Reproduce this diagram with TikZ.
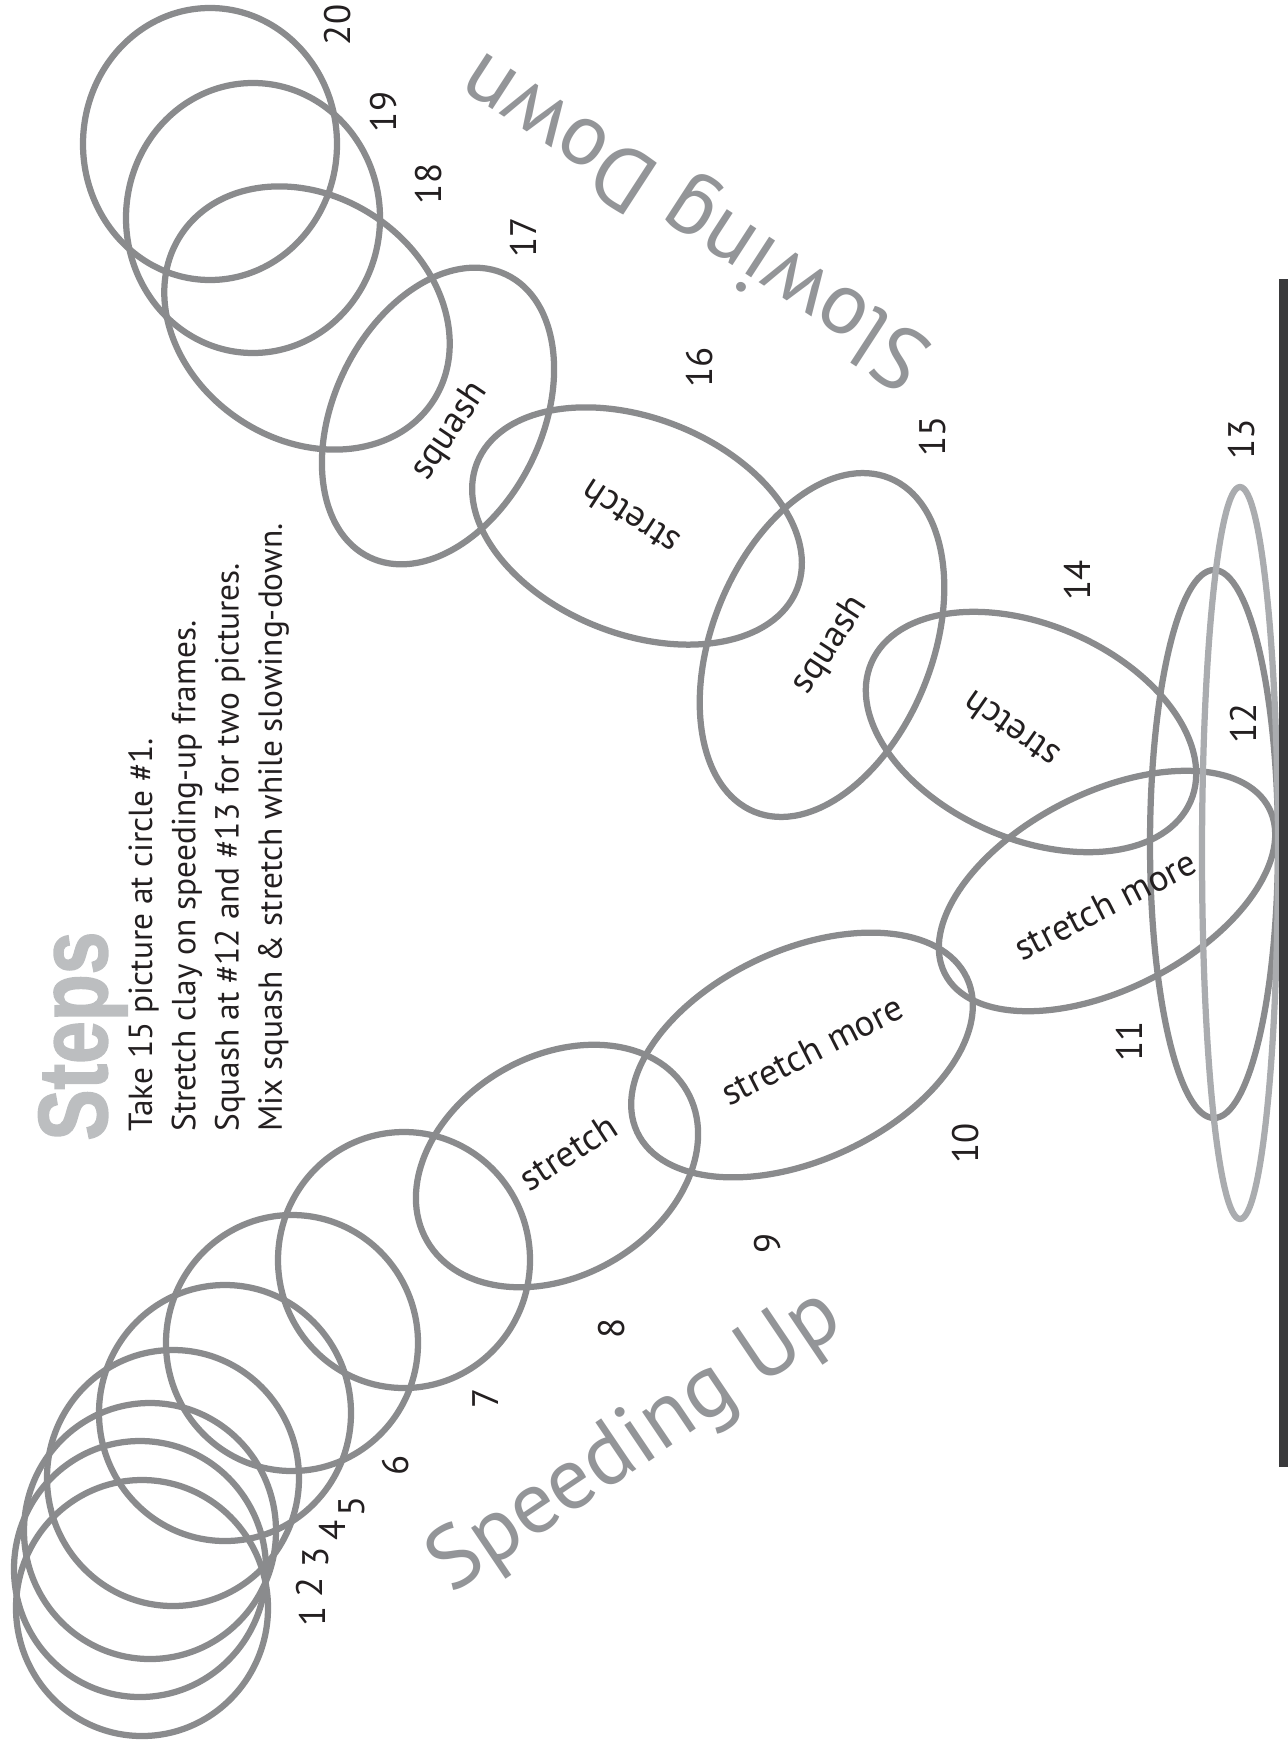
\documentclass[tikz,border=0pt]{standalone}
\usepackage{fontspec}
\setmainfont{PT Sans}
\newfontfamily\stepsfont[FakeStretch=0.78, FakeBold=1.5]{Liberation Sans}
\usetikzlibrary{shapes.geometric,positioning}
\definecolor{ballgray}{RGB}{138,139,141}
\definecolor{palegray}{RGB}{170,172,175}
\definecolor{headgray}{RGB}{188,190,192}
\definecolor{titlegray}{RGB}{147,149,152}
\definecolor{inkdark}{RGB}{35,31,32}
\definecolor{floorgray}{RGB}{58,58,60}
\tikzset{
  ball/.style 2 args={draw=ballgray, line width=1.25mm, ellipse, inner sep=0pt,
    minimum width=#1*0.4mm, minimum height=#2*0.4mm},
  word/.style={text=inkdark, inner sep=0pt, font=\fontsize{21}{24}\selectfont},
  num/.style={text=inkdark, inner sep=0pt, rotate=90, font=\fontsize{21}{24}\selectfont},
  title/.style={text=titlegray, inner sep=0pt, font=\fontsize{50}{60}\selectfont}
}
\begin{document}
\begin{tikzpicture}[x=0.2mm, y=-0.2mm]
    \useasboundingbox (0,0) rectangle (1288,1746);
    \node[ball={126}{128}] (f1) at (142,1608) {};
    \node[ball={126}{128}] (f2) at (140,1569) {};
    \node[ball={126}{128}] (f3) at (150,1531) {};
    \node[ball={126}{128}] (f4) at (173,1478) {};
    \node[ball={126}{128}] (f5) at (225,1413) {};
    \node[ball={126}{128}] (f6) at (292,1343) {};
    \node[ball={126}{128}] (f7) at (404,1260) {};
    \node[ball={150}{110}, rotate=30] (f8) at (557,1166) {};
    \node[ball={182}{105}, rotate=25] (f9) at (802,1055) {};
    \node[ball={182}{98}, rotate=27] (f10) at (1107,891) {};
    \node[ball={64}{274}] (f11) at (1214,844) {};
    \node[ball={38}{366}, draw=palegray] (f12) at (1240,853) {};
    \node[ball={174}{107}, rotate=-23.5] (f13) at (1031,732) {};
    \node[ball={180}{110}, rotate=68] (f14) at (822,645) {};
    \node[ball={172}{108}, rotate=-21.5] (f15) at (637,526) {};
    \node[ball={157}{104}, rotate=64] (f16) at (438,416) {};
    \node[ball={151}{122}, rotate=-33.7] (f17) at (307,318) {};
    \node[ball={127}{135}] (f18) at (253,218) {};
    \node[ball={127}{136}] (f19) at (210,144) {};

    \node[word, rotate=33] (w8) at (568,1152) {stretch};
    \node[word, rotate=27] (w9) at (812,1050) {stretch more};
    \node[word, rotate=27] (w10) at (1105,905) {stretch more};
    \node[word, rotate=145] (w13) at (1011,730) {stretch};
    \node[word, rotate=57] (w14) at (830,645) {squash};
    \node[word, rotate=147] (w15) at (630,518) {stretch};
    \node[word, rotate=56] (w16) at (450,431) {squash};

    \node[num] (n1) at (312,1616) {1};
    \node[num] (n2) at (309,1587) {2};
    \node[num] (n3) at (316,1557) {3};
    \node[num] (n4) at (332,1530) {4};
    \node[num] (n5) at (352,1506) {5};
    \node[num] (n6) at (396,1465) {6};
    \node[num] (n7) at (486,1398) {7};
    \node[num] (n8) at (612,1328) {8};
    \node[num] (n9) at (768,1243) {9};
    \node[num] (n10) at (966,1143) {10};
    \node[num] (n11) at (1129,1041) {11};
    \node[num] (n12) at (1243,723) {12};
    \node[num] (n13) at (1242,439) {13};
    \node[num] (n14) at (1077,580) {14};
    \node[num] (n15) at (933,436) {15};
    \node[num] (n16) at (700,367) {16};
    \node[num] (n17) at (523,237) {17};
    \node[num] (n18) at (429,184) {18};
    \node[num] (n19) at (384,112) {19};
    \node[num] (n20) at (338,25) {20};

    \node[title, rotate=34] (speeding) at (637,1443) {Speeding Up};
    \node[title, rotate=147] (slowing) at (697,216) {Slowing Down};

    \node[rotate=90, anchor=base west, inner sep=0pt, text=headgray,
      font=\stepsfont\bfseries\fontsize{56}{60}\selectfont] (steps) at (107,1141) {Steps};
    \node[rotate=90, anchor=north west, align=left, inner sep=0pt, text=inkdark,
      font=\fontsize{19}{24.6}\selectfont] (howto) at (128,1132)
      {Take 15 picture at circle \#1.\\
       Stretch clay on speeding-up frames.\\
       Squash at \#12 and \#13 for two pictures.\\
       Mix squash \& stretch while slowing-down.};

    \coordinate (floor top) at (1283,279);
    \coordinate (floor end) at (1283,1467);
    \draw[floorgray, line width=1.8mm] (floor top) -- (floor end);
\end{tikzpicture}
\end{document}
